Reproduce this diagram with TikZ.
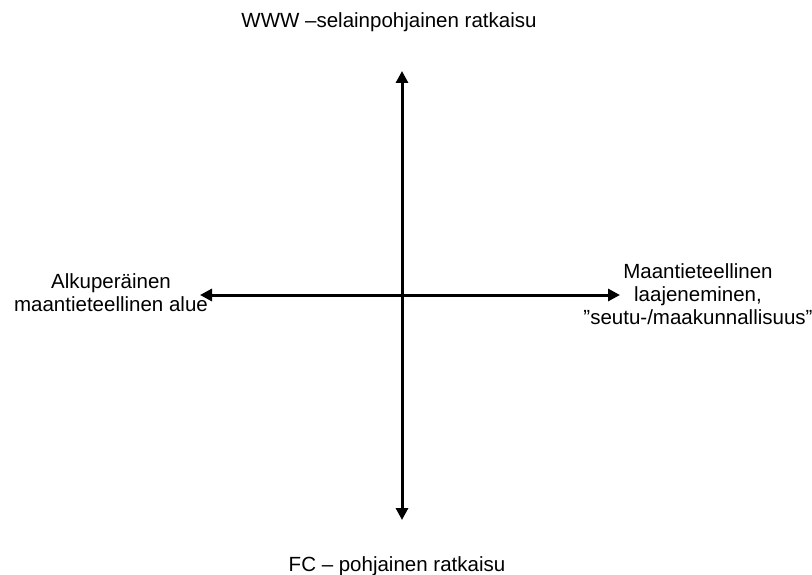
\documentclass[tikz,border=0pt]{standalone}
\usepackage{fontspec}
\setmainfont{Liberation Sans}
\usetikzlibrary{arrows.meta}
\begin{document}
\begin{tikzpicture}[x=1pt,y=-1pt,
  axis/.style={line width=3pt,{Triangle[length=12pt,width=12pt]}-{Triangle[length=12pt,width=12pt]}},
  label/.style={font=\fontsize{20.5}{23}\selectfont,align=center,inner sep=0pt,anchor=base}]
\useasboundingbox (0,0) rectangle (812,575);
\coordinate (L) at (200,295);
\coordinate (R) at (620,295);
\coordinate (T) at (402,71);
\coordinate (B) at (402,520);
\draw[axis] (L) -- (R);
\draw[axis] (B) -- (T);
\node[label] (top) at (389,28) {WWW –selainpohjainen ratkaisu};
\node[label] (bot) at (397,571) {FC – pohjainen ratkaisu};
\node[label] (left) at (111,311) {Alkuperäinen\\maantieteellinen alue};
\node[label] (right) at (698,324) {Maantieteellinen\\laajeneminen,\\”seutu-/maakunnallisuus”};
\end{tikzpicture}
\end{document}
